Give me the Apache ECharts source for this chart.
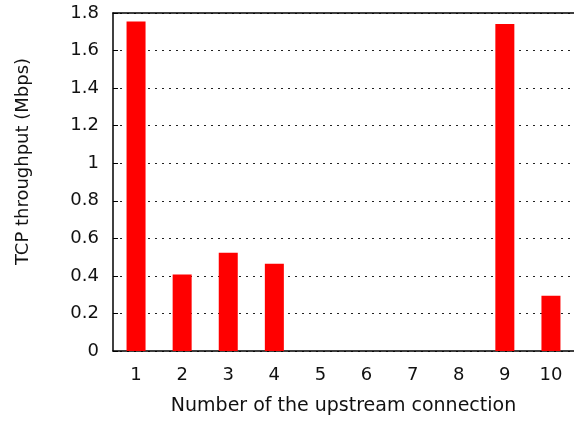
<!DOCTYPE html>
<html><head><meta charset="utf-8">
<script src="https://cdn.jsdelivr.net/npm/echarts@6/dist/echarts.min.js"></script>
<style>html,body{margin:0;padding:0;background:#fff}#c{width:574px;height:421px}</style>
</head><body><div id="c"></div>
<script>
var categories = ['1','2','3','4','5','6','7','8','9','10'];
var throughput = [1.755, 0.408, 0.523, 0.465, 0, 0, 0, 0, 1.741, 0.294];
var yTicks = [0, 0.2, 0.4, 0.6, 0.8, 1, 1.2, 1.4, 1.6, 1.8];

var font = 'DejaVu Sans, sans-serif';
var chart = echarts.init(document.getElementById('c'));
chart.setOption({
  animation: false,
  grid: {left: 113, top: 13, width: 465, height: 338},
  xAxis: [{
    type: 'category', data: categories, position: 'bottom',
    name: 'Number of the upstream connection', nameLocation: 'middle', nameGap: 46,
    nameTextStyle: {fontFamily: font, fontSize: 19, color: '#111'},
    axisLine: {lineStyle: {color: '#000', width: 1.5}},
    axisTick: {alignWithLabel: true, inside: true, length: 5, lineStyle: {color: '#000'}},
    axisLabel: {fontFamily: font, fontSize: 18, color: '#111', margin: 15},
    splitLine: {show: false}
  }, {
    type: 'category', data: categories, position: 'top',
    axisLine: {lineStyle: {color: '#000', width: 1.5}},
    axisTick: {alignWithLabel: true, inside: true, length: 5, lineStyle: {color: '#000'}},
    axisLabel: {show: false}
  }],
  yAxis: {
    type: 'value', min: 0, max: 1.8, interval: 0.2,
    name: 'TCP throughput (Mbps)', nameLocation: 'middle', nameGap: 81, nameRotate: 90,
    nameTextStyle: {fontFamily: font, fontSize: 18, color: '#111', padding: [0, 0, 0, 41]},
    axisLine: {show: true, lineStyle: {color: '#000', width: 1.5}},
    axisTick: {show: true, inside: true, length: 5, lineStyle: {color: '#000'}},
    axisLabel: {fontFamily: font, fontSize: 18, color: '#111', margin: 14,
      formatter: function(v){ var i = yTicks.indexOf(Math.round(v*10)/10); return i>=0 ? String(yTicks[i]) : ''; }},
    splitLine: {show: true, lineStyle: {color: '#222', type: [2, 5], width: 1}}
  },
  series: [{
    type: 'bar', data: throughput, barWidth: 19, xAxisIndex: 0,
    itemStyle: {color: '#ff0000'}
  }]
});
</script></body></html>
